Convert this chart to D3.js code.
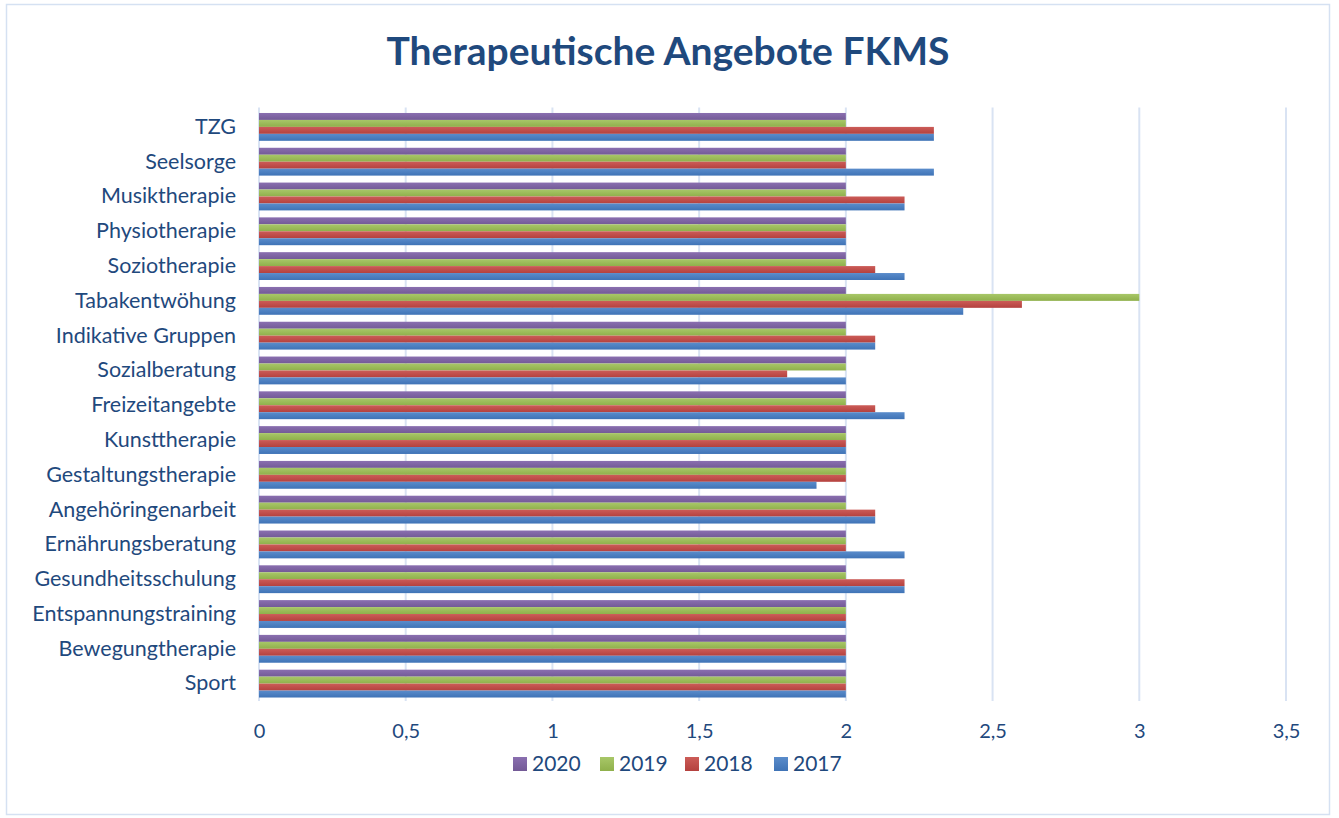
<!DOCTYPE html>
<html lang="de">
<head>
<meta charset="UTF-8">
<script src="https://d3js.org/d3.v7.min.js"></script>
<title>Therapeutische Angebote FKMS</title>
<style>
  body { margin: 0; padding: 0; background: white; }
  svg { display: block; font-family: Lato, "Open Sans", sans-serif; }
</style>
</head>
<body>
<svg id="chart" width="1339" height="818"></svg>
<script>
// categories from top to bottom
const categories = ["TZG", "Seelsorge", "Musiktherapie", "Physiotherapie", "Soziotherapie",
  "Tabakentwöhung", "Indikative Gruppen", "Sozialberatung", "Freizeitangebte", "Kunsttherapie",
  "Gestaltungstherapie", "Angehöringenarbeit", "Ernährungsberatung", "Gesundheitsschulung",
  "Entspannungstraining", "Bewegungtherapie", "Sport"];

const years = ["2020", "2019", "2018", "2017"];
const values2020 = [2, 2, 2, 2, 2, 2, 2, 2, 2, 2, 2, 2, 2, 2, 2, 2, 2];
const values2019 = [2, 2, 2, 2, 2, 3, 2, 2, 2, 2, 2, 2, 2, 2, 2, 2, 2];
const values2018 = [2.3, 2, 2.2, 2, 2.1, 2.6, 2.1, 1.8, 2.1, 2, 2, 2.1, 2, 2.2, 2, 2, 2];
const values2017 = [2.3, 2.3, 2.2, 2, 2.2, 2.4, 2.1, 2, 2.2, 2, 1.9, 2.1, 2.2, 2.2, 2, 2, 2];
const xTicks = [0, 0.5, 1, 1.5, 2, 2.5, 3, 3.5];

const seriesValues = { "2020": values2020, "2019": values2019, "2018": values2018, "2017": values2017 };
const colors = { "2020": ["#8a6fb0", "#735a96"], "2019": ["#a8c768", "#8fb04b"],
                 "2018": ["#cc5c58", "#b4413e"], "2017": ["#5a8ccb", "#3f73b6"] };
const textColor = "#1f497d";

const svg = d3.select("#chart");
const margin = { left: 259, right: 53, top: 109.5, bottom: 117 };
const W = 1339, H = 818;

// outer frame
svg.append("rect").attr("x", 6.5).attr("y", 4.5).attr("width", 1323).attr("height", 810)
  .attr("fill", "white").attr("stroke", "#d5e1f2").attr("stroke-width", 1.5);

// gradients
const defs = svg.append("defs");
years.forEach(y => {
  const g = defs.append("linearGradient").attr("id", "g" + y)
    .attr("x1", 0).attr("y1", 0).attr("x2", 0).attr("y2", 1);
  g.append("stop").attr("offset", "0%").attr("stop-color", colors[y][0]);
  g.append("stop").attr("offset", "100%").attr("stop-color", colors[y][1]);
});

const x = d3.scaleLinear().domain([0, 3.5]).range([margin.left, W - margin.right]);
const y = d3.scaleBand().domain(categories).range([margin.top, H - margin.bottom]).paddingInner(0.2).paddingOuter(0.1);
const yInner = d3.scaleBand().domain(years).range([0, y.bandwidth()]);

// title
svg.append("text").attr("x", 668).attr("y", 65).attr("text-anchor", "middle")
  .attr("font-size", 39).attr("font-weight", "bold").attr("fill", textColor)
  .text("Therapeutische Angebote FKMS");

// gridlines
svg.append("g").selectAll("line").data(xTicks).join("line")
  .attr("x1", d => x(d)).attr("x2", d => x(d))
  .attr("y1", margin.top - 2).attr("y2", H - margin.bottom)
  .attr("stroke", "#d9e3f3").attr("stroke-width", 2);

// bars
const groups = svg.append("g").selectAll("g").data(categories).join("g")
  .attr("transform", d => `translate(0,${y(d)})`);
groups.selectAll("rect").data((c, i) => years.map(yr => ({ yr, v: seriesValues[yr][i] })))
  .join("rect")
  .attr("x", x(0))
  .attr("y", d => yInner(d.yr))
  .attr("height", yInner.bandwidth())
  .attr("width", d => x(d.v) - x(0))
  .attr("fill", d => `url(#g${d.yr})`);

// y axis labels
const yAxis = d3.axisLeft(y).tickSize(0).tickPadding(23);
const yg = svg.append("g").attr("transform", `translate(${margin.left},0)`).call(yAxis);
yg.select(".domain").remove();
yg.selectAll("text").attr("font-size", 21.5).attr("fill", textColor).attr("font-family", "Lato, sans-serif");

// x axis labels
const xAxis = d3.axisBottom(x).tickValues(xTicks).tickSize(0).tickPadding(23)
  .tickFormat(d => String(d).replace(".", ","));
const xg = svg.append("g").attr("transform", `translate(0,${H - margin.bottom})`).call(xAxis);
xg.select(".domain").remove();
xg.selectAll("text").attr("font-size", 20).attr("fill", textColor).attr("font-family", "Lato, sans-serif");

// legend
const legendX = [513, 600, 685, 774];
const legend = svg.append("g").selectAll("g").data(years).join("g")
  .attr("transform", (d, i) => `translate(${legendX[i]},757)`);
legend.append("rect").attr("width", 14).attr("height", 14).attr("fill", d => `url(#g${d})`);
legend.append("text").attr("x", 19).attr("y", 14).attr("font-size", 21).attr("fill", textColor)
  .text(d => d);
</script>
</body>
</html>
